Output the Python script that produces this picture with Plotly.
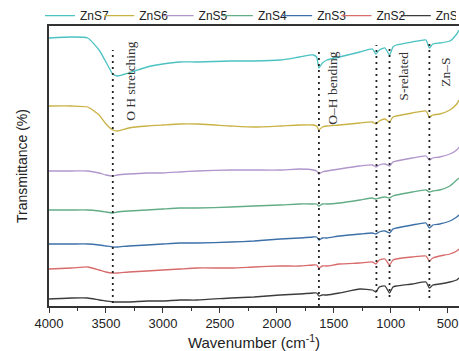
import plotly.graph_objects as go

# Wavenumber grid (cm^-1)
wavenumber = [4000, 3800, 3660, 3560, 3500, 3440, 3400, 3300, 3140, 3000, 2850, 2700,
              2400, 2200, 1970, 1800, 1680, 1650, 1630, 1600, 1560, 1450, 1270, 1160,
              1130, 1100, 1050, 1010, 980, 950, 810, 690, 660, 630, 570, 480, 420, 400]

# Transmittance (arbitrary offset units)
zns7 = [268, 269, 268, 256, 244, 232, 230, 233, 239, 242, 244, 244, 245, 245, 246, 249, 251, 249, 238,
        243, 246, 249, 254, 257, 252, 256, 258, 251, 259, 261, 264, 266, 258, 262, 263, 265, 272, 276]
zns6 = [200, 200, 199, 191, 182, 176, 175, 178, 180, 181, 182, 182, 180, 179, 180, 181, 181, 180, 176,
        179, 180, 181, 183, 184, 182, 185, 187, 184, 189, 190, 193, 195, 189, 191, 192, 196, 202, 206]
zns5 = [135, 135, 135, 133, 131, 130, 131, 132, 133, 133, 134, 135, 136, 136, 136, 137, 136, 135, 132,
        134, 135, 137, 140, 141, 139, 141, 142, 140, 144, 145, 148, 150, 146, 148, 149, 152, 156, 159]
zns4 = [96, 96, 96, 95, 94, 93, 94, 95, 96, 97, 98, 98, 99, 100, 101, 102, 102, 102, 100,
        102, 102, 103, 106, 108, 107, 108, 109, 108, 110, 111, 114, 116, 114, 115, 116, 120, 126, 128]
zns3 = [62, 62, 62, 61, 60, 59, 59, 60, 61, 62, 63, 63, 64, 65, 67, 68, 69, 69, 66,
        68, 68, 70, 72, 73, 72, 74, 75, 73, 77, 78, 81, 83, 78, 81, 82, 85, 89, 91]
zns2 = [37, 38, 39, 36, 34, 33, 33, 34, 35, 36, 37, 38, 38, 39, 40, 40, 41, 41, 38,
        40, 40, 42, 43, 44, 42, 46, 47, 41, 46, 47, 49, 50, 45, 48, 50, 52, 55, 57]
zns1 = [7, 8, 8, 6, 5, 4, 4, 4, 5, 5, 6, 6, 8, 9, 11, 12, 13, 13, 10,
        11, 11, 13, 17, 16, 14, 19, 20, 13, 19, 20, 22, 24, 18, 21, 22, 24, 26, 28]

series_names = ["ZnS7", "ZnS6", "ZnS5", "ZnS4", "ZnS3", "ZnS2", "ZnS1"]
series_values = [zns7, zns6, zns5, zns4, zns3, zns2, zns1]
series_colors = ["#4cc2c2", "#c9b244", "#b196cc", "#62ad86", "#3d70a8", "#d86b6b", "#3c3c3c"]

# Band markers (dotted lines): wavenumber, top, bottom
band_pos = [3440, 1630, 1125, 1010, 660]
band_top = [256, 256, 261, 259, 265]
band_bottom = [3, 0, 8, 9, 8]

# Band labels: text, wavenumber, y
label_text = ["O H stretching", "O\u2013H bending", "S-related", "Zn\u2013S"]
label_x = [3290, 1518, 895, 526]
label_y = [225, 218, 230, 234]

fig = go.Figure()
for name, vals, col in zip(series_names, series_values, series_colors):
    fig.add_trace(go.Scatter(x=wavenumber, y=vals, mode="lines", name=name,
                             line=dict(color=col, width=1.3, shape="spline", smoothing=0.5)))

for xp, yt, yb in zip(band_pos, band_top, band_bottom):
    fig.add_shape(type="line", xref="x", yref="y", x0=xp, x1=xp, y0=yb, y1=yt,
                  line=dict(color="#222222", width=1.8, dash="2px,4px"), layer="above")

for t, xp, yp in zip(label_text, label_x, label_y):
    fig.add_annotation(x=xp, y=yp, xref="x", yref="y", text=t, textangle=-90,
                       showarrow=False, xanchor="center", yanchor="middle",
                       font=dict(family="Liberation Serif, Times New Roman, serif", size=13.5, color="#333333"))

fig.update_layout(
    width=459, height=351,
    margin=dict(l=49, r=0, t=26, b=45, autoexpand=False),
    paper_bgcolor="white", plot_bgcolor="white",
    font=dict(family="Liberation Sans, Arial, sans-serif", size=12, color="#222222"),
    showlegend=True,
    legend=dict(orientation="h", x=-0.022, xanchor="left", y=1.037, yanchor="middle",
                entrywidth=14.3, entrywidthmode="pixels", bgcolor="rgba(0,0,0,0)",
                font=dict(size=12, color="#222222"), traceorder="normal"),
    xaxis=dict(range=[4000, 400], showgrid=False, zeroline=False,
               showline=True, linecolor="#333333", linewidth=1.5, mirror=True,
               ticks="outside", ticklen=5, tickwidth=1.2, tickcolor="#333333",
               dtick=500, tick0=0,
               minor=dict(ticks="outside", ticklen=3, tickwidth=1, tickcolor="#333333", dtick=250),
               tickfont=dict(size=13, color="#222222"),
               title=dict(text="Wavenumber (cm<sup>-1</sup>)", font=dict(size=15, color="#222222"), standoff=8)),
    yaxis=dict(range=[0, 280], showgrid=False, zeroline=False,
               showline=True, linecolor="#333333", linewidth=1.5, mirror=True,
               showticklabels=False, ticks="",
               title=dict(text="Transmittance (%)", font=dict(size=14, color="#222222"), standoff=16)),
)

fig.write_html("out.html", config={"displayModeBar": False},
               post_script="document.body.style.margin='0';document.body.style.padding='0';"
                           "document.body.style.overflow='hidden';")
